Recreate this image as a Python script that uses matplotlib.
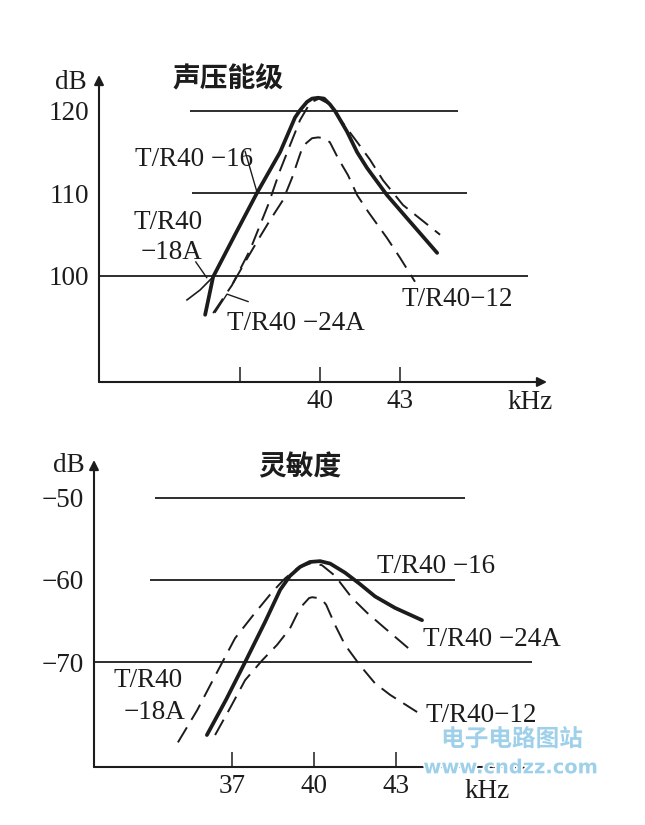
import matplotlib.pyplot as plt
import matplotlib.patheffects as pe

# ---- data ----
# top panel: 声压能级 (dB)
top_16_f = [35.69, 35.99, 36.81, 37.64, 38.5, 39.06, 39.25, 39.51, 39.7, 39.93, 40.15,
            40.37, 40.56, 41.01, 41.39, 41.76, 42.51, 43.26, 44.39]
top_16_db = [95.3, 99.9, 105.0, 110.1, 115.0, 119.2, 120.1, 121.1, 121.5, 121.6, 121.5,
             120.8, 120.0, 117.5, 115.0, 113.1, 109.8, 107.0, 102.8]
top_18a_f = [35.01, 35.5, 35.99, 36.81]
top_18a_db = [97.1, 98.3, 99.9, 105.0]
top_24a_f = [35.99, 36.7, 37.38, 38.05, 38.5, 38.88, 39.25, 39.63, 39.96, 40.37, 40.82,
             41.42, 41.87, 42.36, 43.11, 44.5]
top_24a_db = [95.5, 98.9, 103.2, 108.6, 112.8, 115.9, 118.9, 121.0, 121.5, 120.8, 118.7,
              116.1, 114.1, 111.6, 108.6, 105.0]
top_12_f = [36.74, 37.19, 37.68, 38.13, 38.61, 38.95, 39.18, 39.33, 39.48, 39.7, 39.93,
            40.15, 40.37, 40.67, 41.05, 41.39, 41.8, 42.51, 43.0, 43.56]
top_12_db = [99.15, 101.7, 104.4, 106.8, 109.2, 111.9, 114.1, 115.5, 116.1, 116.7, 116.8,
             116.7, 116.2, 114.3, 112.2, 109.8, 107.8, 104.6, 102.2, 99.3]
top_levels = [120, 110, 100]
top_yticklabels = ['120', '110', '100']

# bottom panel: 灵敏度 (dB)
bot_16_f = [36.08, 36.78, 37.48, 38.21, 38.76, 39.12, 39.49, 39.85, 40.22, 40.59, 41.13,
            41.68, 42.23, 42.96, 43.95]
bot_16_db = [-78.9, -74.6, -70.0, -65.1, -61.2, -59.5, -58.4, -57.8, -57.7, -58.0, -59.1,
             -60.5, -62.0, -63.4, -64.9]
bot_24a_f = [35.02, 35.72, 36.3, 37.11, 37.77, 38.46, 38.94, 39.41, 39.93, 40.29, 40.77,
             41.39, 41.94, 42.6, 43.62]
bot_24a_db = [-79.8, -75.9, -72.2, -67.1, -64.3, -61.5, -59.8, -58.5, -57.9, -58.2, -59.5,
              -62.2, -64.0, -65.9, -68.8]
bot_12_f = [36.38, 36.93, 37.48, 38.1, 38.65, 39.12, 39.49, 39.71, 39.82, 39.93, 40.15,
            40.29, 40.44, 40.77, 41.13, 41.68, 42.23, 42.78, 43.77]
bot_12_db = [-78.9, -75.6, -72.2, -69.8, -67.9, -65.9, -63.4, -62.6, -62.2, -62.1, -62.2,
             -62.4, -63.0, -65.5, -67.9, -70.4, -72.6, -74.0, -76.1]
bot_levels = [-50, -60, -70]
bot_yticklabels = ['\u221250', '\u221260', '\u221270']

INK = '#1c1c1c'
SERIF = ['Liberation Serif', 'DejaVu Serif']
CJK = ['Noto Sans CJK SC', 'DejaVu Sans']
DASH = (0, (9, 4.5))
FS = 19.5

fig = plt.figure(figsize=(6.45, 8.25), dpi=100)
W, H = 645, 825


def add_axes(x0, y0, x1, y1):
    # pixel box (left, top, right, bottom) -> figure fraction
    return fig.add_axes([x0 / W, 1 - y1 / H, (x1 - x0) / W, (y1 - y0) / H])


def style(ax, xt, xtl, yt, ytl):
    for s in ax.spines.values():
        s.set_visible(False)
    ax.annotate('', xy=(1, 0), xytext=(0, 0), xycoords='axes fraction',
                arrowprops=dict(arrowstyle='-|>', color=INK, lw=1.5, mutation_scale=14,
                                shrinkA=0, shrinkB=0))
    ax.annotate('', xy=(0, 1), xytext=(0, 0), xycoords='axes fraction',
                arrowprops=dict(arrowstyle='-|>', color=INK, lw=1.5, mutation_scale=14,
                                shrinkA=0, shrinkB=0))
    ax.set_xticks(xt, xtl)
    ax.set_yticks(yt, ytl)
    ax.tick_params(axis='x', direction='in', length=10.5, width=1.1, color=INK, pad=5,
                   labelsize=FS, labelcolor=INK)
    ax.tick_params(axis='y', length=0, pad=7, labelsize=FS, labelcolor=INK)
    for lab in ax.get_xticklabels() + ax.get_yticklabels():
        lab.set_family(SERIF)


def label(ax, x, y, s, ha='left'):
    ax.text(x, y, s, ha=ha, va='center', fontsize=FS, color=INK, family=SERIF,
            clip_on=False)


# ---------------- top panel ----------------
ax1 = add_axes(99, 75, 547, 382)
ax1.set_xlim(31.71, 48.51)
ax1.set_ylim(87.15, 124.36)
style(ax1, [37, 40, 43], ['', '40', '43'], top_levels, top_yticklabels)

ax1.hlines(top_levels[0], 35.13, 45.17, color=INK, lw=1.3)
ax1.hlines(top_levels[1], 35.2, 45.51, color=INK, lw=1.3)
ax1.hlines(top_levels[2], 31.71, 47.8, color=INK, lw=1.3, clip_on=False)

ax1.plot(top_16_f, top_16_db, color=INK, lw=2.7, solid_capstyle='round',
         solid_joinstyle='round')
ax1.plot(top_18a_f, top_18a_db, color=INK, lw=1.2)
ax1.plot(top_24a_f, top_24a_db, color=INK, lw=1.4, linestyle=DASH)
ax1.plot(top_12_f, top_12_db, color=INK, lw=1.4, linestyle=DASH)

# leader lines
ax1.plot([37.19, 37.64], [115.1, 110.1], color=INK, lw=1.0)
ax1.plot([35.34, 35.75], [101.7, 99.8], color=INK, lw=1.0)
ax1.plot([36.07, 36.51, 37.30], [95.6, 97.8, 96.9], color=INK, lw=1.0)

ax1.text(30.06, 123.4, 'dB', ha='left', va='center', fontsize=FS, color=INK,
         family=SERIF, clip_on=False)
ax1.text(34.45, 123.8, '声压能级', ha='left', va='center', fontsize=20, color=INK,
         family=CJK, fontweight='bold', clip_on=False)
label(ax1, 33.06, 114.1, 'T/R40 \u221216')
label(ax1, 35.58, 106.5, 'T/R40', ha='right')
label(ax1, 35.58, 102.8, '\u221218A', ha='right')
label(ax1, 36.51, 94.3, 'T/R40 \u221224A')
label(ax1, 43.07, 97.1, 'T/R40\u221212')
label(ax1, 47.01, 84.7, 'kHz')

# ---------------- bottom panel ----------------
ax2 = add_axes(94, 460, 527, 767)
ax2.set_xlim(31.95, 47.79)
ax2.set_ylim(-82.8, -45.37)
style(ax2, [37, 40, 43], ['37', '40', '43'], bot_levels, bot_yticklabels)

ax2.hlines(bot_levels[0], 34.18, 45.52, color=INK, lw=1.3)
ax2.hlines(bot_levels[1], 34.0, 45.16, color=INK, lw=1.3)
ax2.hlines(bot_levels[2], 31.95, 47.98, color=INK, lw=1.3, clip_on=False)

ax2.plot(bot_16_f, bot_16_db, color=INK, lw=2.7, solid_capstyle='round',
         solid_joinstyle='round')
ax2.plot(bot_24a_f, bot_24a_db, color=INK, lw=1.4, linestyle=DASH)
ax2.plot(bot_12_f, bot_12_db, color=INK, lw=1.4, linestyle=DASH)

ax2.text(30.45, -45.98, 'dB', ha='left', va='center', fontsize=FS, color=INK,
         family=SERIF, clip_on=False)
ax2.text(37.95, -46.3, '灵敏度', ha='left', va='center', fontsize=20, color=INK,
         family=CJK, fontweight='bold', clip_on=False)
label(ax2, 42.31, -58.4, 'T/R40 \u221216')
label(ax2, 43.99, -67.3, 'T/R40 \u221224A')
label(ax2, 44.06, -76.5, 'T/R40\u221212')
label(ax2, 35.21, -72.2, 'T/R40', ha='right')
label(ax2, 35.28, -76.1, '\u221218A', ha='right')
label(ax2, 45.52, -85.8, 'kHz')

# watermark
wm = [pe.withStroke(linewidth=2.5, foreground='white')]
ax2.text(44.65, -79.4, '电子电路图站', ha='left', va='center', fontsize=17,
         color='#9fd0ea', family=CJK, fontweight='bold', clip_on=False, path_effects=wm)
ax2.text(44.0, -82.9, 'www.cndzz.com', ha='left', va='center', fontsize=14,
         color='#9fd0ea', family=['DejaVu Sans'], fontweight='bold', clip_on=False,
         path_effects=wm)

fig.savefig('out.png', dpi=100, facecolor='white')
